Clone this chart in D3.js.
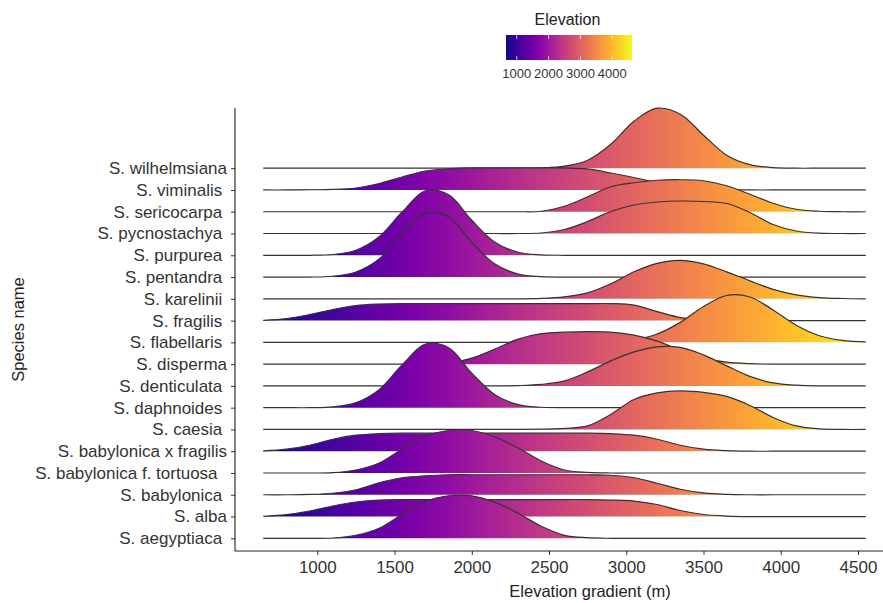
<!DOCTYPE html>
<html>
<head>
<meta charset="utf-8">
<script src="https://cdn.jsdelivr.net/npm/d3@7"></script>
<style>
  body { margin: 0; background: #fff; }
  svg { display: block; font-family: "Liberation Sans", Arial, sans-serif; }
</style>
</head>
<body>
<div class="chart"></div>
<script>
// species, top row first (labels keep the stray spaces of the original)
const species = [
  "S. wilhelmsiana", "S. viminalis ", "S. sericocarpa ", "S. pycnostachya ", "S. purpurea ",
  "S. pentandra ", "S. karelinii ", "S. fragilis ", "S. flabellaris ", "S. disperma",
  "S. denticulata ", "S. daphnoides ", "S. caesia ", "S. babylonica x fragilis",
  "S. babylonica f. tortuosa  ", "S. babylonica ", "S. alba", "S. aegyptiaca "
];

// elevation grid (m) the ridge heights were read at
const elevation = [650, 800, 950, 1100, 1250, 1400, 1550, 1700, 1850, 2000, 2150, 2300, 2450, 2600,
  2750, 2900, 3050, 3200, 3350, 3500, 3650, 3800, 3950, 4100, 4250, 4400, 4550];

// relative density per species
const wilhelmsiana = [0, 0, 0, 0, 0, 0, 0, 0, 0, 0, 0, 0, 0.003, 0.02, 0.08, 0.24, 0.47, 0.60, 0.54, 0.33, 0.13, 0.035, 0.006, 0, 0, 0, 0];
const viminalis = [0, 0, 0.002, 0.005, 0.02, 0.065, 0.13, 0.19, 0.21, 0.22, 0.22, 0.22, 0.22, 0.22, 0.21, 0.17, 0.125, 0.075, 0.035, 0.012, 0.003, 0, 0, 0, 0, 0, 0];
const sericocarpa = [0, 0, 0, 0, 0, 0, 0, 0, 0, 0, 0, 0, 0.005, 0.055, 0.15, 0.25, 0.29, 0.315, 0.32, 0.31, 0.26, 0.175, 0.085, 0.025, 0.005, 0, 0];
const pycnostachya = [0, 0, 0, 0, 0, 0, 0, 0, 0, 0, 0, 0, 0.005, 0.04, 0.12, 0.22, 0.285, 0.315, 0.325, 0.32, 0.30, 0.21, 0.09, 0.025, 0.003, 0, 0];
const purpurea = [0, 0, 0, 0.008, 0.05, 0.185, 0.435, 0.645, 0.605, 0.35, 0.13, 0.03, 0.004, 0, 0, 0, 0, 0, 0, 0, 0, 0, 0, 0, 0, 0, 0];
const pentandra = [0, 0, 0, 0.008, 0.05, 0.18, 0.43, 0.64, 0.60, 0.345, 0.13, 0.03, 0.004, 0, 0, 0, 0, 0, 0, 0, 0, 0, 0, 0, 0, 0, 0];
const karelinii = [0, 0, 0, 0, 0, 0, 0, 0, 0, 0, 0, 0, 0.004, 0.02, 0.06, 0.15, 0.27, 0.355, 0.385, 0.35, 0.27, 0.18, 0.095, 0.04, 0.012, 0.003, 0];
const fragilis = [0.003, 0.02, 0.06, 0.11, 0.15, 0.165, 0.17, 0.17, 0.17, 0.17, 0.17, 0.17, 0.17, 0.17, 0.17, 0.17, 0.155, 0.09, 0.03, 0.008, 0.002, 0, 0, 0, 0, 0, 0];
const flabellaris = [0, 0, 0, 0, 0, 0, 0, 0, 0, 0, 0, 0, 0, 0, 0, 0.007, 0.026, 0.084, 0.2, 0.358, 0.469, 0.454, 0.324, 0.171, 0.066, 0.019, 0.004];
const disperma = [0, 0, 0, 0, 0, 0, 0, 0.002, 0.01, 0.06, 0.15, 0.25, 0.305, 0.32, 0.325, 0.32, 0.29, 0.23, 0.14, 0.06, 0.02, 0.005, 0, 0, 0, 0, 0];
const denticulata = [0, 0, 0, 0, 0, 0, 0, 0, 0, 0, 0, 0.003, 0.015, 0.05, 0.14, 0.25, 0.34, 0.39, 0.385, 0.31, 0.2, 0.095, 0.03, 0.007, 0, 0, 0];
const daphnoides = [0, 0, 0, 0.008, 0.05, 0.18, 0.43, 0.635, 0.60, 0.345, 0.13, 0.03, 0.004, 0, 0, 0, 0, 0, 0, 0, 0, 0, 0, 0, 0, 0, 0];
const caesia = [0, 0, 0, 0, 0, 0, 0, 0, 0, 0, 0, 0, 0.003, 0.01, 0.035, 0.15, 0.30, 0.365, 0.385, 0.37, 0.33, 0.24, 0.12, 0.035, 0.005, 0, 0];
const babylonicaXfragilis = [0.003, 0.02, 0.06, 0.12, 0.16, 0.175, 0.18, 0.18, 0.18, 0.18, 0.18, 0.18, 0.18, 0.18, 0.18, 0.175, 0.16, 0.12, 0.06, 0.02, 0.005, 0, 0, 0, 0, 0, 0];
const tortuosa = [0, 0, 0, 0.003, 0.03, 0.10, 0.24, 0.37, 0.425, 0.425, 0.36, 0.25, 0.12, 0.03, 0.006, 0, 0, 0, 0, 0, 0, 0, 0, 0, 0, 0, 0];
const babylonica = [0, 0, 0.003, 0.015, 0.05, 0.12, 0.17, 0.19, 0.2, 0.2, 0.2, 0.2, 0.2, 0.2, 0.2, 0.195, 0.17, 0.115, 0.055, 0.018, 0.004, 0, 0, 0, 0, 0, 0];
const alba = [0.003, 0.02, 0.055, 0.105, 0.145, 0.165, 0.17, 0.17, 0.17, 0.17, 0.17, 0.17, 0.17, 0.17, 0.17, 0.165, 0.155, 0.12, 0.06, 0.02, 0.005, 0, 0, 0, 0, 0, 0];
const aegyptiaca = [0, 0, 0, 0.003, 0.03, 0.10, 0.24, 0.37, 0.425, 0.425, 0.36, 0.25, 0.12, 0.03, 0.006, 0, 0, 0, 0, 0, 0, 0, 0, 0, 0, 0, 0];

const ridges = [wilhelmsiana, viminalis, sericocarpa, pycnostachya, purpurea, pentandra, karelinii,
  fragilis, flabellaris, disperma, denticulata, daphnoides, caesia, babylonicaXfragilis,
  tortuosa, babylonica, alba, aegyptiaca];

const xTicks = [1000, 1500, 2000, 2500, 3000, 3500, 4000, 4500];
const legendTicks = [1000, 2000, 3000, 4000];
const fillDomain = [664, 4619];

const dims = {
  width: 883,
  height: 603,
  panel: { left: 235, right: 883, top: 108, bottom: 551 },
  legend: { left: 506, width: 126, top: 35, height: 25 }
};

const svg = d3.select(".chart").append("svg")
  .attr("width", dims.width)
  .attr("height", dims.height);

const x = d3.scaleLinear().domain([1000, 4500]).range([317.3, 858]);
const y = d3.scalePoint().domain(species).range([168.2, 538.3]);
const hgt = d3.scaleLinear().domain([0, 1]).range([0, 100]);
const legendX = d3.scaleLinear().domain(fillDomain).range([dims.legend.left, dims.legend.left + dims.legend.width]);

const stops = d3.range(0, 1.0001, 0.05);
const defs = svg.append("defs");
defs.append("linearGradient")
  .attr("id", "elev-fill")
  .attr("gradientUnits", "userSpaceOnUse")
  .attr("x1", x(fillDomain[0])).attr("x2", x(fillDomain[1]))
  .attr("y1", 0).attr("y2", 0)
  .selectAll("stop").data(stops).join("stop")
  .attr("offset", d => d)
  .attr("stop-color", d => d3.interpolatePlasma(d));
defs.append("linearGradient")
  .attr("id", "legend-fill")
  .selectAll("stop").data(stops).join("stop")
  .attr("offset", d => d)
  .attr("stop-color", d => d3.interpolatePlasma(d));

// ridges, drawn top to bottom so lower rows sit on top
const ridgeG = svg.append("g");
species.forEach((name, k) => {
  const base = y(name);
  const pts = ridges[k].map((d, i) => [elevation[i], d]);
  const area = d3.area()
    .x(d => x(d[0]))
    .y0(base)
    .y1(d => base - hgt(d[1]))
    .curve(d3.curveCatmullRom);
  const line = d3.line()
    .x(d => x(d[0]))
    .y(d => base - hgt(d[1]))
    .curve(d3.curveCatmullRom);
  ridgeG.append("path")
    .attr("d", area(pts))
    .attr("fill", "url(#elev-fill)");
  ridgeG.append("path")
    .attr("d", line(pts))
    .attr("fill", "none")
    .attr("stroke", "#333")
    .attr("stroke-width", 1.2);
});

// axes
svg.append("g")
  .attr("transform", `translate(0,${dims.panel.bottom})`)
  .call(d3.axisBottom(x).tickValues(xTicks).tickSize(4).tickFormat(d3.format("d")))
  .call(g => g.select(".domain").remove())
  .call(g => g.selectAll(".tick line").attr("stroke", "#333"))
  .call(g => g.selectAll(".tick text")
    .attr("y", 22).attr("dy", null)
    .attr("fill", "#333")
    .style("font-size", "17px"));

svg.append("g")
  .attr("transform", `translate(${dims.panel.left},0)`)
  .call(d3.axisLeft(y).tickSize(4).tickPadding(4))
  .call(g => g.select(".domain").remove())
  .call(g => g.selectAll(".tick line").attr("stroke", "#333"))
  .call(g => g.selectAll(".tick text")
    .attr("fill", "#333")
    .style("white-space", "pre")
    .style("font-size", "17px"));

svg.append("line")
  .attr("x1", dims.panel.left).attr("x2", dims.panel.left)
  .attr("y1", dims.panel.top).attr("y2", dims.panel.bottom)
  .attr("stroke", "#222").attr("stroke-width", 1.1);
svg.append("line")
  .attr("x1", dims.panel.left).attr("x2", dims.panel.right)
  .attr("y1", dims.panel.bottom).attr("y2", dims.panel.bottom)
  .attr("stroke", "#222").attr("stroke-width", 1.1);

svg.append("text")
  .attr("x", 590).attr("y", 597)
  .attr("text-anchor", "middle")
  .style("font-size", "16.5px")
  .attr("fill", "#222")
  .text("Elevation gradient (m)");

svg.append("text")
  .attr("transform", `translate(24,${(dims.panel.top + dims.panel.bottom) / 2}) rotate(-90)`)
  .attr("text-anchor", "middle")
  .style("font-size", "16.5px")
  .attr("fill", "#222")
  .text("Species  name");

// legend
const legend = svg.append("g");
legend.append("text")
  .attr("x", 567.5).attr("y", 25)
  .attr("text-anchor", "middle")
  .style("font-size", "16px")
  .attr("fill", "#222")
  .text("Elevation");
legend.append("rect")
  .attr("x", dims.legend.left).attr("y", dims.legend.top)
  .attr("width", dims.legend.width).attr("height", dims.legend.height)
  .attr("fill", "url(#legend-fill)");
legend.selectAll("line.tick-top").data(legendTicks).join("line")
  .attr("class", "tick-top")
  .attr("x1", d => legendX(d)).attr("x2", d => legendX(d))
  .attr("y1", dims.legend.top).attr("y2", dims.legend.top + 4)
  .attr("stroke", "#fff").attr("stroke-opacity", 0.7);
legend.selectAll("line.tick-bottom").data(legendTicks).join("line")
  .attr("class", "tick-bottom")
  .attr("x1", d => legendX(d)).attr("x2", d => legendX(d))
  .attr("y1", dims.legend.top + dims.legend.height - 4).attr("y2", dims.legend.top + dims.legend.height)
  .attr("stroke", "#fff").attr("stroke-opacity", 0.7);
legend.selectAll("text.lab").data(legendTicks).join("text")
  .attr("class", "lab")
  .attr("x", d => legendX(d)).attr("y", 78)
  .attr("text-anchor", "middle")
  .style("font-size", "13px")
  .attr("fill", "#333")
  .text(d => d);
</script>
</body>
</html>
